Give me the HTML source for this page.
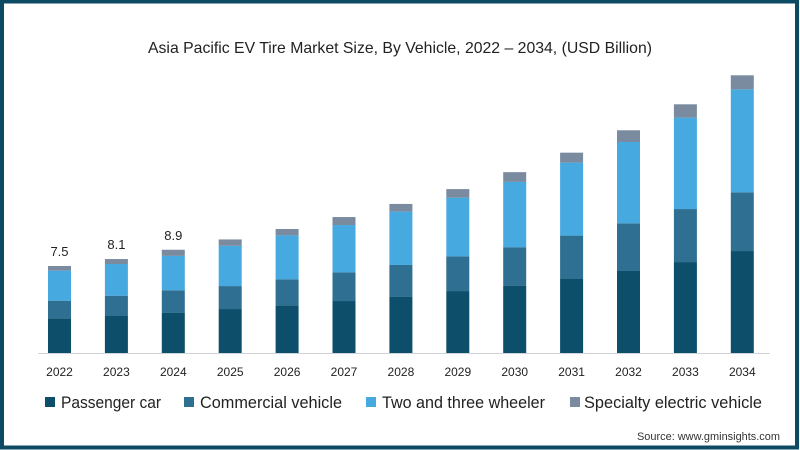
<!DOCTYPE html>
<html><head><meta charset="utf-8"><style>
html,body{margin:0;padding:0;background:#fff}
svg{display:block;font-family:"Liberation Sans",sans-serif}
</style></head><body>
<svg width="800" height="450">
<rect x="2" y="1.5" width="795" height="446" fill="#fff" stroke="#0d4a63" stroke-width="4"/>
<text x="400" y="53" text-anchor="middle" font-size="16" fill="#222" textLength="504" lengthAdjust="spacingAndGlyphs">Asia Pacific EV Tire Market Size, By Vehicle, 2022 – 2034, (USD Billion)</text>
<line x1="38" y1="353.5" x2="770" y2="353.5" stroke="#d0d4d8" stroke-width="1"/>
<g id="bars"></g>
<g id="xlabels"></g>
<g>
<g><rect x="45" y="397" width="10" height="10" fill="#0d4f6b"/><text x="61" y="408" font-size="17" fill="#222" textLength="100" lengthAdjust="spacingAndGlyphs">Passenger car</text></g>
<g><rect x="184" y="397" width="10" height="10" fill="#2e6f92"/><text x="200" y="408" font-size="17" fill="#222" textLength="142" lengthAdjust="spacingAndGlyphs">Commercial vehicle</text></g>
<g><rect x="366" y="397" width="10" height="10" fill="#46a9df"/><text x="382" y="408" font-size="17" fill="#222" textLength="163" lengthAdjust="spacingAndGlyphs">Two and three wheeler</text></g>
<g><rect x="570" y="397" width="10" height="10" fill="#7a8ba0"/><text x="584" y="408" font-size="17" fill="#222" textLength="178" lengthAdjust="spacingAndGlyphs">Specialty electric vehicle</text></g>
</g>
<text x="780" y="440" text-anchor="end" font-size="11" fill="#333" textLength="143" lengthAdjust="spacingAndGlyphs">Source: www.gminsights.com</text>
</svg>
<script>
const years = ["2022","2023","2024","2025","2026","2027","2028","2029","2030","2031","2032","2033","2034"];
const passenger = [2.99,3.19,3.45,3.79,4.11,4.48,4.83,5.34,5.78,6.38,7.07,7.84,8.79];
const commercial = [1.52,1.75,1.96,1.98,2.24,2.47,2.76,2.99,3.34,3.74,4.11,4.57,5.06];
const twoThree = [2.59,2.73,2.96,3.47,3.79,4.08,4.60,5.06,5.63,6.29,7.01,7.88,8.88];
const specialty = [0.40,0.43,0.53,0.55,0.55,0.69,0.66,0.74,0.84,0.86,1.01,1.15,1.21];
const totalLabels = ["7.5","8.1","8.9","","","","","","","","","",""];

const NS="http://www.w3.org/2000/svg";
const baseY=353, pxPerUnit=11.6, x0=48, step=56.9, bw=23;
const yScale=v=>v*pxPerUnit;
const xScale=i=>x0+i*step;
const series=[
 {name:"passenger-car",vals:passenger,color:"#0d4f6b"},
 {name:"commercial-vehicle",vals:commercial,color:"#2e6f92"},
 {name:"two-and-three-wheeler",vals:twoThree,color:"#46a9df"},
 {name:"specialty-electric-vehicle",vals:specialty,color:"#7a8ba0"}];
const bars=document.getElementById('bars');
const xl=document.getElementById('xlabels');
years.forEach((yr,i)=>{
  let cum=0;
  series.forEach(s=>{
    const h=yScale(s.vals[i]);
    const r=document.createElementNS(NS,'rect');
    r.setAttribute('x',xScale(i));
    r.setAttribute('y',baseY-yScale(cum)-h);
    r.setAttribute('width',bw);
    r.setAttribute('height',h);
    r.setAttribute('fill',s.color);
    
    
    bars.appendChild(r);
    cum+=s.vals[i];
  });
  if(totalLabels[i]){
    const t=document.createElementNS(NS,'text');
    t.setAttribute('x',xScale(i)+bw/2);
    t.setAttribute('y',baseY-yScale(cum)-10);
    t.setAttribute('text-anchor','middle');
    t.setAttribute('font-size','13');
    t.setAttribute('fill','#222');
    t.textContent=totalLabels[i];
    
    
    bars.appendChild(t);
  }
  const l=document.createElementNS(NS,'text');
  l.setAttribute('x',xScale(i)+bw/2);
  l.setAttribute('y',376);
  l.setAttribute('text-anchor','middle');
  l.setAttribute('font-size','12');
  l.setAttribute('fill','#222');
  l.textContent=yr;
  
  
  xl.appendChild(l);
});
</script>
</body></html>
